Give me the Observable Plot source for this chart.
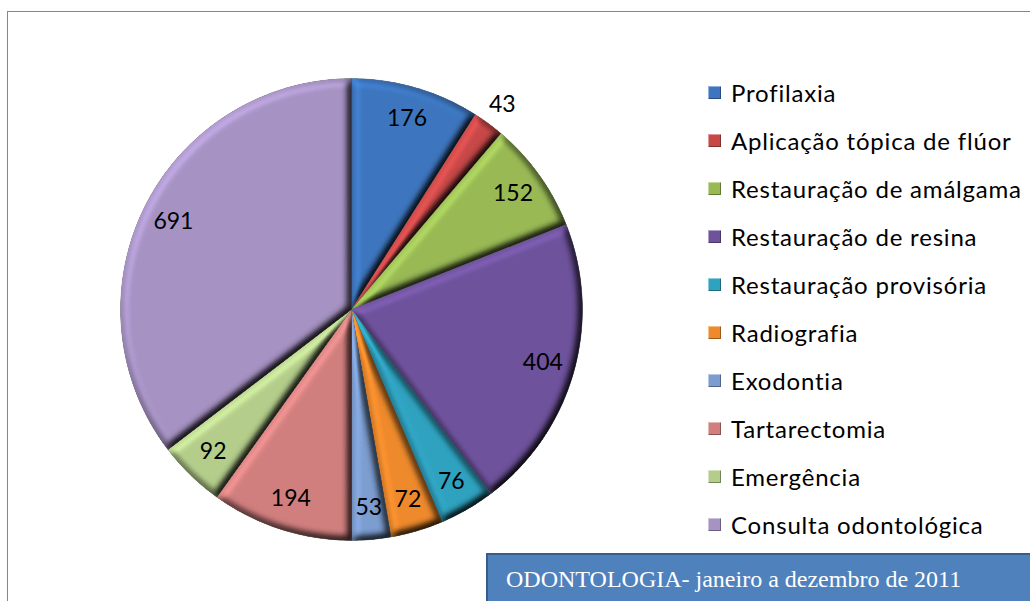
<!DOCTYPE html>
<html>
<head>
<meta charset="utf-8">
<script src="https://cdn.jsdelivr.net/npm/d3@7"></script>
<script src="https://cdn.jsdelivr.net/npm/@observablehq/plot@0.6"></script>
<style>
  html, body { margin: 0; padding: 0; background: #fff; overflow: hidden; }
  #wrap { position: relative; width: 1030px; height: 601px; overflow: hidden; }
  #frame { position: absolute; left: 7px; top: 11px; width: 1100px; height: 700px; border: 1px solid #878787; box-sizing: border-box; pointer-events: none; }
  #chart { position: absolute; left: 0; top: 0; }
  #legend { position: absolute; left: 708px; top: 0; font-family: Lato, "Open Sans", sans-serif; font-size: 24px; letter-spacing: 0.8px; font-variant-ligatures: none; color: #000; }
  .item { position: absolute; left: 0; white-space: nowrap; display: flex; align-items: center; height: 30px; }
  .sw { width: 13px; height: 13px; margin-right: 10px; box-sizing: border-box; }
  #note { position: absolute; left: 486px; top: 553px; width: 600px; height: 80px; background: #4f81bd; border: 2px solid #385d8a; box-sizing: border-box; }
  #note span { position: absolute; left: 18px; top: 11px; font-family: "Liberation Serif", "Times New Roman", serif; font-size: 24px; color: #fff; white-space: nowrap; }
</style>
</head>
<body>
<div id="wrap">
  <div id="chart"></div>
  <div id="frame"></div>
  <div id="legend"></div>
  <div id="note"><span id="noteText"></span></div>
</div>
<script>
const categories = ["Profilaxia", "Aplicação tópica de flúor", "Restauração de amálgama", "Restauração de resina", "Restauração provisória", "Radiografia", "Exodontia", "Tartarectomia", "Emergência", "Consulta odontológica"];
const values = [176, 43, 152, 404, 76, 72, 53, 194, 92, 691];
const colors = ["#3d76bf", "#c64847", "#98b954", "#6e529c", "#2fa2c0", "#ee8a2c", "#7c9dd0", "#d07f7e", "#b4cd8b", "#a692c3"];
const noteTitle = "ODONTOLOGIA- janeiro a dezembro de 2011";

const total = d3.sum(values);
const slices = [];
let acc = 0;
values.forEach((v, i) => {
  const a0 = acc / total * 2 * Math.PI;
  acc += v;
  const a1 = acc / total * 2 * Math.PI;
  slices.push({name: categories[i], value: v, a0, a1, color: colors[i]});
});

// polygon outline of each slice in unit-circle data space (angles clockwise from top)
const outline = [];
for (const s of slices) {
  outline.push({name: s.name, x: 0, y: 0});
  const n = Math.max(2, Math.ceil((s.a1 - s.a0) / (Math.PI / 180)));
  for (let k = 0; k <= n; k++) {
    const a = s.a0 + (s.a1 - s.a0) * k / n;
    outline.push({name: s.name, x: Math.sin(a), y: Math.cos(a)});
  }
}

const labels = slices.map(s => {
  const m = (s.a0 + s.a1) / 2;
  const r = s.value / total < 0.025 ? 1.1 : 0.86;
  return {text: String(s.value), x: r * Math.sin(m), y: r * Math.cos(m)};
});

const plot = Plot.plot({
  width: 1030,
  height: 601,
  margin: 0,
  style: {background: "transparent", overflow: "visible"},
  x: {domain: [-1, 1], range: [120, 582], axis: null},
  y: {domain: [-1, 1], range: [540, 78], axis: null},
  color: {domain: categories, range: colors},
  marks: [
    Plot.line(outline, {x: "x", y: "y", z: "name", fill: "name", stroke: "name", strokeWidth: 0.5, curve: "linear-closed"}),
    Plot.text(labels, {x: "x", y: "y", text: "text", fontSize: 23, fill: "#000", fontFamily: "Lato, 'Open Sans', sans-serif"})
  ]
});

// bevel filter applied to every slice
const svg = d3.select(plot);
const defs = svg.insert("defs", ":first-child");
const f = defs.append("filter").attr("id", "bevel").attr("color-interpolation-filters", "sRGB")
  .attr("x", "-5%").attr("y", "-5%").attr("width", "110%").attr("height", "110%");
f.append("feGaussianBlur").attr("in", "SourceAlpha").attr("stdDeviation", 4).attr("result", "blur");
f.append("feDiffuseLighting").attr("in", "blur").attr("surfaceScale", 7).attr("diffuseConstant", 0.77)
  .attr("lighting-color", "#fff").attr("result", "light")
  .append("feDistantLight").attr("azimuth", 225).attr("elevation", 60);
f.append("feComposite").attr("in", "SourceGraphic").attr("in2", "light").attr("operator", "arithmetic")
  .attr("k1", 1.5).attr("k2", 0).attr("k3", 0).attr("k4", 0).attr("result", "lit");
f.append("feComposite").attr("in", "lit").attr("in2", "SourceAlpha").attr("operator", "in");
svg.selectAll("g[aria-label='line'] path").attr("filter", "url(#bevel)");

document.getElementById("chart").appendChild(plot);

const legend = d3.select("#legend");
categories.forEach((c, i) => {
  const it = legend.append("div").attr("class", "item").style("top", (92 + 48 * i - 15) + "px");
  it.append("div").attr("class", "sw")
    .style("background", colors[i])
    .style("box-shadow", "inset 1px 1px 0 rgba(255,255,255,0.45), inset -1px -1px 0 rgba(0,0,0,0.35)");
  it.append("span").text(c);
});
document.getElementById("noteText").textContent = noteTitle;
</script>
</body>
</html>
